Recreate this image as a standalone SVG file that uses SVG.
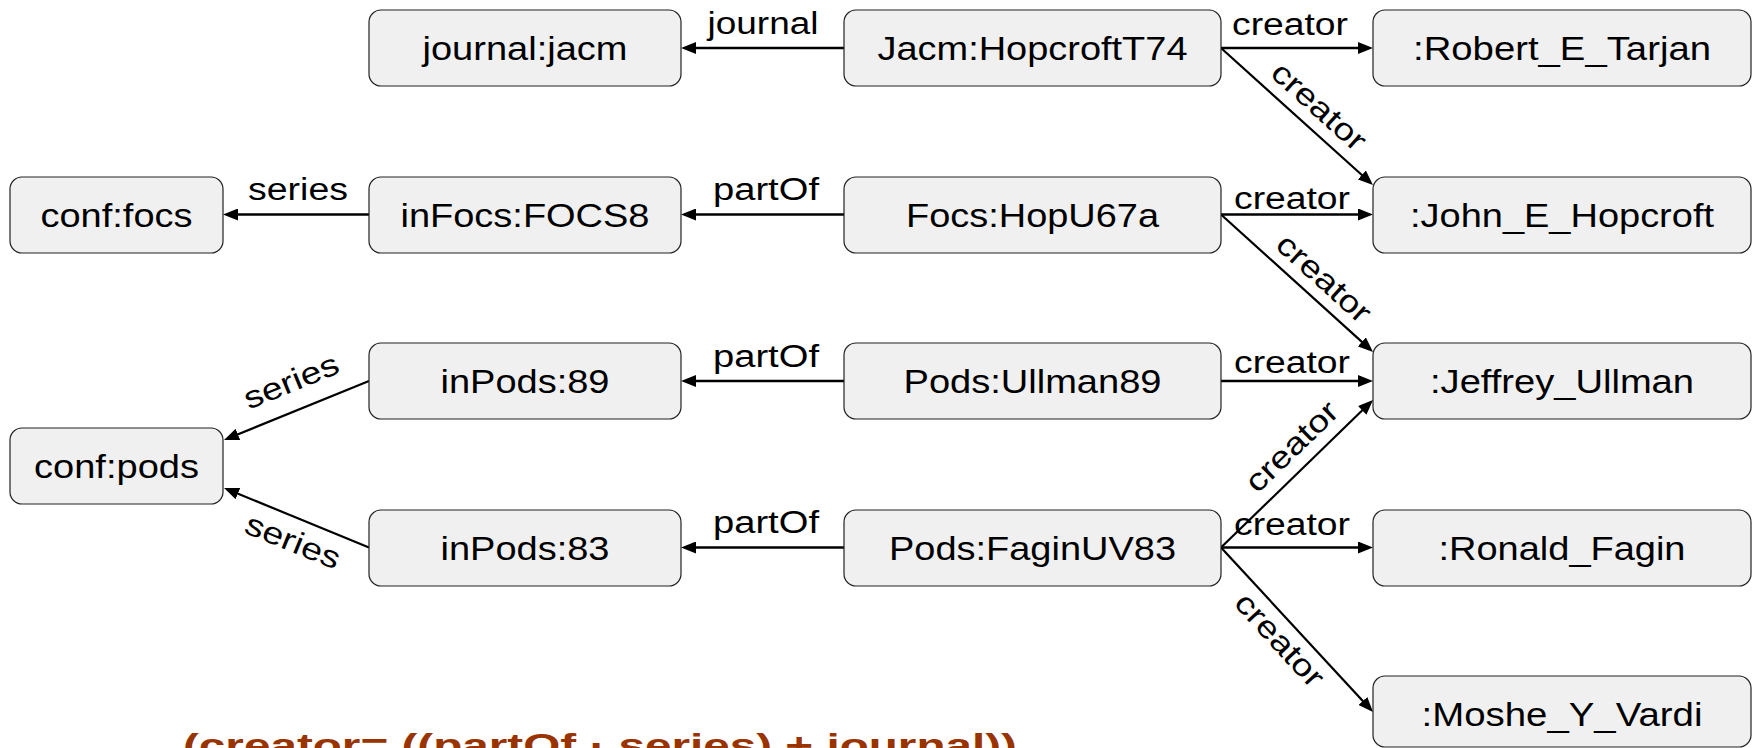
<svg xmlns="http://www.w3.org/2000/svg" width="1756" height="748" viewBox="0 0 1756 748">
<defs>
<marker id="arr" markerUnits="userSpaceOnUse" markerWidth="15" markerHeight="12" viewBox="0 0 15 12" refX="3" refY="6" orient="auto"><path d="M0,0 L15,6 L0,12 z" fill="#000"/></marker>
<style>
.n rect{fill:#f0f0f0;stroke:#222;stroke-width:1.2}
.n text{font-family:"Liberation Sans",Arial,sans-serif;font-size:34px;text-anchor:middle;fill:#000}
.e path{fill:none;stroke:#000;stroke-width:2.5;marker-end:url(#arr)}
.e .d{stroke-width:2.2}
.e text{font-family:"Liberation Sans",Arial,sans-serif;font-size:31px;text-anchor:middle;fill:#000}
.q{font-family:"Liberation Sans",Arial,sans-serif;font-size:33px;font-weight:bold;fill:#993300}
</style>
</defs>
<rect width="1756" height="748" fill="#fff"/>
<g class="e" id="connectors">
<path d="M844,48 L693,48"/>
<path d="M1221,48 L1361,48"/>
<path d="M844,214.5 L693,214.5"/>
<path d="M369,214.5 L235,214.5"/>
<path d="M1221,214.5 L1361,214.5"/>
<path d="M844,381 L693,381"/>
<path d="M1221,381 L1361,381"/>
<path d="M844,547.5 L693,547.5"/>
<path d="M1221,547.5 L1361,547.5"/>
<path class="d" d="M1221,48 L1364.1,177"/>
<path class="d" d="M1221,214.5 L1364.1,343.9"/>
<path class="d" d="M1221,547.5 L1364.4,408.3"/>
<path class="d" d="M1221,547.5 L1364.9,703.2"/>
<path class="d" d="M369,381 L235.1,435.5"/>
<path class="d" d="M369,547.5 L235.1,492.5"/>
<text x="763" y="34" textLength="111" lengthAdjust="spacingAndGlyphs">journal</text>
<text x="1290" y="35" textLength="116" lengthAdjust="spacingAndGlyphs">creator</text>
<text x="766" y="200" textLength="106" lengthAdjust="spacingAndGlyphs">partOf</text>
<text x="298" y="200" textLength="100" lengthAdjust="spacingAndGlyphs">series</text>
<text x="1292" y="209" textLength="116" lengthAdjust="spacingAndGlyphs">creator</text>
<text x="766" y="367" textLength="106" lengthAdjust="spacingAndGlyphs">partOf</text>
<text x="1292" y="373" textLength="116" lengthAdjust="spacingAndGlyphs">creator</text>
<text x="766" y="533" textLength="106" lengthAdjust="spacingAndGlyphs">partOf</text>
<text x="1292" y="535" textLength="116" lengthAdjust="spacingAndGlyphs">creator</text>
<text transform="translate(1312,114) rotate(42)" textLength="116" lengthAdjust="spacingAndGlyphs">creator</text>
<text transform="translate(1317,286) rotate(42.2)" textLength="116" lengthAdjust="spacingAndGlyphs">creator</text>
<text transform="translate(1299,454) rotate(-44)" textLength="116" lengthAdjust="spacingAndGlyphs">creator</text>
<text transform="translate(1272,647) rotate(47.3)" textLength="116" lengthAdjust="spacingAndGlyphs">creator</text>
<text transform="translate(295,391) rotate(-22.1)" textLength="100" lengthAdjust="spacingAndGlyphs">series</text>
<text transform="translate(289,551) rotate(22.1)" textLength="100" lengthAdjust="spacingAndGlyphs">series</text>
</g>
<g class="n" id="journal_jacm"><rect x="369" y="10" width="312" height="76" rx="12"/><text x="525" y="60" textLength="205" lengthAdjust="spacingAndGlyphs">journal:jacm</text></g>
<g class="n" id="Jacm_HopcroftT74"><rect x="844" y="10" width="377" height="76" rx="12"/><text x="1032.5" y="60" textLength="310" lengthAdjust="spacingAndGlyphs">Jacm:HopcroftT74</text></g>
<g class="n" id="Robert_E_Tarjan"><rect x="1373" y="10" width="378" height="76" rx="12"/><text x="1562" y="60" textLength="298" lengthAdjust="spacingAndGlyphs">:Robert_E_Tarjan</text></g>
<g class="n" id="conf_focs"><rect x="10" y="177" width="213" height="76" rx="12"/><text x="116.5" y="227" textLength="152" lengthAdjust="spacingAndGlyphs">conf:focs</text></g>
<g class="n" id="inFocs_FOCS8"><rect x="369" y="177" width="312" height="76" rx="12"/><text x="525" y="227" textLength="249" lengthAdjust="spacingAndGlyphs">inFocs:FOCS8</text></g>
<g class="n" id="Focs_HopU67a"><rect x="844" y="177" width="377" height="76" rx="12"/><text x="1032.5" y="227" textLength="253" lengthAdjust="spacingAndGlyphs">Focs:HopU67a</text></g>
<g class="n" id="John_E_Hopcroft"><rect x="1373" y="177" width="378" height="76" rx="12"/><text x="1562" y="227" textLength="304" lengthAdjust="spacingAndGlyphs">:John_E_Hopcroft</text></g>
<g class="n" id="inPods_89"><rect x="369" y="343" width="312" height="76" rx="12"/><text x="525" y="393" textLength="169" lengthAdjust="spacingAndGlyphs">inPods:89</text></g>
<g class="n" id="Pods_Ullman89"><rect x="844" y="343" width="377" height="76" rx="12"/><text x="1032.5" y="393" textLength="258" lengthAdjust="spacingAndGlyphs">Pods:Ullman89</text></g>
<g class="n" id="Jeffrey_Ullman"><rect x="1373" y="343" width="378" height="76" rx="12"/><text x="1562" y="393" textLength="264" lengthAdjust="spacingAndGlyphs">:Jeffrey_Ullman</text></g>
<g class="n" id="conf_pods"><rect x="10" y="428" width="213" height="76" rx="12"/><text x="116.5" y="478" textLength="165" lengthAdjust="spacingAndGlyphs">conf:pods</text></g>
<g class="n" id="inPods_83"><rect x="369" y="510" width="312" height="76" rx="12"/><text x="525" y="560" textLength="169" lengthAdjust="spacingAndGlyphs">inPods:83</text></g>
<g class="n" id="Pods_FaginUV83"><rect x="844" y="510" width="377" height="76" rx="12"/><text x="1032.5" y="560" textLength="287" lengthAdjust="spacingAndGlyphs">Pods:FaginUV83</text></g>
<g class="n" id="Ronald_Fagin"><rect x="1373" y="510" width="378" height="76" rx="12"/><text x="1562" y="560" textLength="247" lengthAdjust="spacingAndGlyphs">:Ronald_Fagin</text></g>
<g class="n" id="Moshe_Y_Vardi"><rect x="1373" y="676" width="378" height="71" rx="12"/><text x="1562" y="726" textLength="281" lengthAdjust="spacingAndGlyphs">:Moshe_Y_Vardi</text></g>
<text class="q" x="183" y="757" textLength="834" lengthAdjust="spacingAndGlyphs">(creator= ((partOf · series) + journal))</text>
</svg>
